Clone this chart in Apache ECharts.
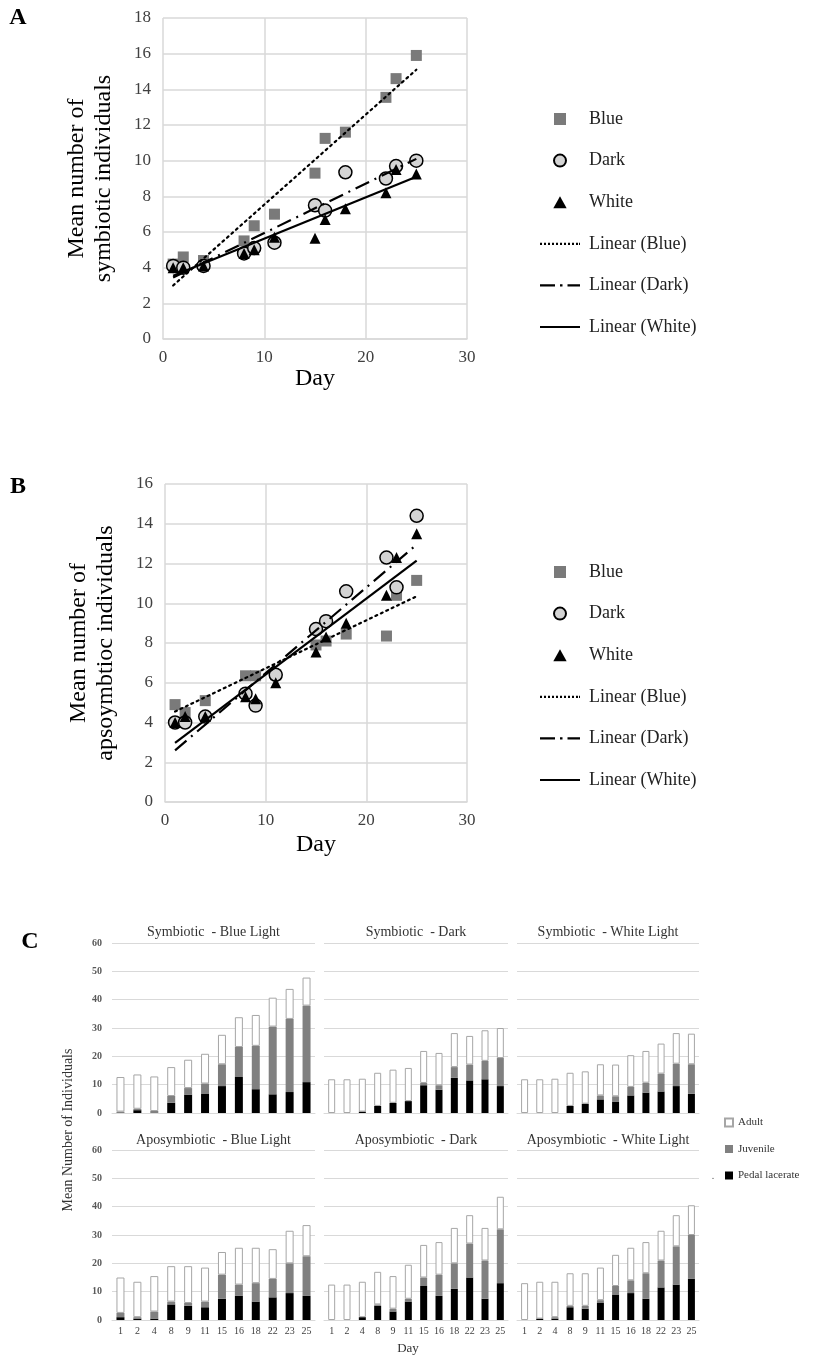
<!DOCTYPE html>
<html><head><meta charset="utf-8">
<script src="https://cdn.jsdelivr.net/npm/echarts@6/dist/echarts.min.js"></script>
<style>html,body{margin:0;padding:0;background:#fff}#c{width:814px;height:1361px}</style>
</head><body><div id="c"></div>
<script>
// ---------- shared ----------
const days = [1, 2, 4, 8, 9, 11, 15, 16, 18, 22, 23, 25];
const dayLabels = ['1','2','4','8','9','11','15','16','18','22','23','25'];

// ---------- Panel A : symbiotic ----------
const aBlue  = [4.2, 4.6, 4.4, 5.5, 6.35, 7.0, 9.3, 11.25, 11.6, 13.55, 14.6, 15.9];
const aDark  = [4.1, 4.0, 4.1, 4.8, 5.1, 5.4, 7.5, 7.2, 9.35, 9.0, 9.7, 10.0];
const aWhite = [4.0, 4.0, 4.1, 4.8, 5.0, 5.7, 5.65, 6.7, 7.3, 8.2, 9.5, 9.25];
const aTrendBlue  = [[1, 3.0], [25, 15.1]];
const aTrendDark  = [[1, 3.45], [25, 10.1]];
const aTrendWhite = [[1, 3.55], [25, 9.1]];

// ---------- Panel B : aposymbiotic ----------
const bBlue  = [4.9, 4.5, 5.1, 6.35, 6.35, 6.4, 7.9, 8.1, 8.45, 8.35, 10.4, 11.15];
const bDark  = [4.0, 4.0, 4.3, 5.45, 4.85, 6.4, 8.7, 9.1, 10.6, 12.3, 10.8, 14.4];
const bWhite = [4.0, 4.3, 4.3, 5.3, 5.2, 6.0, 7.55, 8.3, 9.0, 10.4, 12.3, 13.5];
const bTrendBlue  = [[1, 4.55], [25, 10.35]];
const bTrendDark  = [[1, 2.6], [25, 12.95]];
const bTrendWhite = [[1, 2.97], [25, 12.15]];

const scatterAxisTicks = { xMin: 0, xMax: 30, xStep: 10 };

// ---------- Panel C : stacked bars ----------
const symBluePedal  = [0, 1.0, 0, 3.6, 6.5, 6.7, 9.5, 12.7, 8.4, 6.6, 7.4, 10.9];
const symBlueJuv    = [0.5, 0.5, 0.7, 2.4, 2.3, 3.7, 7.7, 10.6, 15.3, 23.9, 25.8, 27.0];
const symBlueAdult  = [12.2, 12.1, 12.2, 10.2, 10.0, 10.5, 10.4, 10.5, 10.9, 10.2, 10.6, 9.9];

const symDarkPedal  = [0, 0, 0.5, 2.5, 3.6, 4.2, 9.8, 8.2, 12.4, 11.5, 11.9, 9.5];
const symDarkJuv    = [0, 0, 0, 0, 0, 0, 0.8, 1.6, 3.8, 5.6, 6.5, 9.9];
const symDarkAdult  = [11.9, 11.9, 11.6, 11.7, 11.7, 11.7, 11.3, 11.4, 12.0, 10.1, 10.8, 10.6];

const symWhitePedal = [0, 0, 0, 2.5, 3.3, 4.8, 3.9, 6.2, 7.2, 7.6, 9.5, 6.8];
const symWhiteJuv   = [0, 0, 0, 0, 0, 1.4, 2.0, 3.0, 3.5, 6.3, 7.9, 10.4];
const symWhiteAdult = [11.9, 11.9, 12.1, 11.7, 11.4, 11.0, 11.2, 11.2, 11.2, 10.6, 10.8, 10.8];

const apoBluePedal  = [1.0, 0.5, 0.5, 5.5, 5.0, 4.5, 7.5, 8.5, 6.5, 8.0, 9.5, 8.5];
const apoBlueJuv    = [1.5, 0.5, 2.5, 1.0, 1.0, 2.0, 8.5, 4.0, 6.5, 6.5, 10.5, 14.0];
const apoBlueAdult  = [12.5, 12.5, 12.5, 12.5, 13.0, 12.0, 8.0, 13.0, 12.5, 10.5, 11.5, 11.0];

const apoDarkPedal  = [0, 0, 1.0, 5.0, 3.0, 6.5, 12.0, 8.5, 11.0, 15.0, 7.5, 13.0];
const apoDarkJuv    = [0, 0, 0, 0.5, 1.0, 1.0, 3.0, 7.5, 9.0, 12.0, 13.5, 19.0];
const apoDarkAdult  = [12.5, 12.5, 12.5, 11.5, 11.5, 12.0, 11.5, 11.5, 12.5, 10.0, 11.5, 11.5];

const apoWhitePedal = [0, 0.5, 0.5, 4.5, 4.0, 6.0, 9.0, 9.5, 7.5, 11.5, 12.5, 14.5];
const apoWhiteJuv   = [0, 0, 0.5, 0.5, 1.0, 1.0, 3.0, 4.5, 9.0, 9.5, 13.5, 15.5];
const apoWhiteAdult = [13.0, 13.0, 12.5, 11.5, 11.5, 11.5, 11.0, 11.5, 11.0, 10.5, 11.0, 10.5];

const panelTitles = ['Symbiotic  - Blue Light', 'Symbiotic  - Dark', 'Symbiotic  - White Light',
                     'Aposymbiotic  - Blue Light', 'Aposymbiotic  - Dark', 'Aposymbiotic  - White Light'];
const stageNames = ['Adult', 'Juvenile', 'Pedal lacerate'];

// ---------- build ----------
const SERIF = 'Liberation Serif';
const GRID = '#d9d9d9';
const pair = arr => arr.map((v, i) => [days[i], v]);

const panelData = [
  [symBluePedal, symBlueJuv, symBlueAdult],
  [symDarkPedal, symDarkJuv, symDarkAdult],
  [symWhitePedal, symWhiteJuv, symWhiteAdult],
  [apoBluePedal, apoBlueJuv, apoBlueAdult],
  [apoDarkPedal, apoDarkJuv, apoDarkAdult],
  [apoWhitePedal, apoWhiteJuv, apoWhiteAdult]
];
const colLeft = [112, 324, 517], colWidth = [203, 184, 182];
const rowTop = [943, 1150];

const grids = [
  { left: 163, top: 18, width: 304, height: 321 },
  { left: 165, top: 484, width: 302, height: 318 }
];
for (let r = 0; r < 2; r++) for (let c = 0; c < 3; c++)
  grids.push({ left: colLeft[c], top: rowTop[r], width: colWidth[c], height: 170 });

function sciX(gi, gap) {
  return { type: 'value', gridIndex: gi, min: scatterAxisTicks.xMin, max: scatterAxisTicks.xMax, interval: scatterAxisTicks.xStep,
    axisLine: { show: true, lineStyle: { color: GRID, width: 1.5 } }, axisTick: { show: false },
    splitLine: { show: true, lineStyle: { color: GRID, width: 1.5 } },
    axisLabel: { fontFamily: SERIF, fontSize: 17, color: '#404040', margin: 10 },
    name: 'Day', nameLocation: 'middle', nameGap: gap,
    nameTextStyle: { fontFamily: SERIF, fontSize: 24, color: '#000' } };
}
function sciY(gi, max, name) {
  return { type: 'value', gridIndex: gi, min: 0, max: max, interval: 2,
    axisLine: { show: false }, axisTick: { show: false },
    splitLine: { show: true, lineStyle: { color: GRID, width: 1.5 } },
    axisLabel: { fontFamily: SERIF, fontSize: 17, color: '#404040', margin: 12 },
    name: name, nameLocation: 'middle', nameGap: 46, nameRotate: 90,
    nameTextStyle: { fontFamily: SERIF, fontSize: 24, color: '#000', lineHeight: 27 } };
}

const xAxes = [sciX(0, 27), sciX(1, 31)];
const yAxes = [sciY(0, 18, 'Mean number of\nsymbiotic individuals'), sciY(1, 16, 'Mean number of\napsoymbtioc individuals')];
for (let p = 0; p < 6; p++) {
  const gi = p + 2, bottomRow = p >= 3, leftCol = p % 3 === 0;
  xAxes.push({ type: 'category', gridIndex: gi, data: dayLabels,
    axisLine: { show: true, lineStyle: { color: GRID } }, axisTick: { show: false },
    axisLabel: { show: bottomRow, fontFamily: SERIF, fontSize: 10, color: '#404040', margin: 6, interval: 0 } });
  yAxes.push({ type: 'value', gridIndex: gi, min: 0, max: 60, interval: 10,
    axisLine: { show: false }, axisTick: { show: false },
    splitLine: { show: true, lineStyle: { color: GRID, width: 1 } },
    axisLabel: { show: leftCol, fontFamily: SERIF, fontSize: 10, fontWeight: 'bold', color: '#595959', margin: 10 } });
}

const series = [];
function sciSeries(gi, blue, dark, white, tb, td, tw) {
  series.push(
    { type: 'scatter', name: 'Blue', xAxisIndex: gi, yAxisIndex: gi, data: pair(blue), symbol: 'rect', symbolSize: 11,
      itemStyle: { color: '#7a7a7a', opacity: 1 } },
    { type: 'scatter', name: 'Dark', xAxisIndex: gi, yAxisIndex: gi, data: pair(dark), symbol: 'circle', symbolSize: 13,
      itemStyle: { color: '#d4d4d4', borderColor: '#000', borderWidth: 1.5, opacity: 1 } },
    { type: 'scatter', name: 'White', xAxisIndex: gi, yAxisIndex: gi, data: pair(white), symbol: 'triangle', symbolSize: 11,
      itemStyle: { color: '#000', opacity: 1 } },
    { type: 'line', name: 'Linear (Blue)', xAxisIndex: gi, yAxisIndex: gi, data: tb, symbol: 'none',
      lineStyle: { color: '#000', width: 2.2, type: [2, 4], cap: 'round' }, itemStyle: { color: '#000' } },
    { type: 'line', name: 'Linear (Dark)', xAxisIndex: gi, yAxisIndex: gi, data: td, symbol: 'none',
      lineStyle: { color: '#000', width: 2.2, type: [15, 6, 2, 6] }, itemStyle: { color: '#000' } },
    { type: 'line', name: 'Linear (White)', xAxisIndex: gi, yAxisIndex: gi, data: tw, symbol: 'none',
      lineStyle: { color: '#000', width: 2.2 }, itemStyle: { color: '#000' } }
  );
}
sciSeries(0, aBlue, aDark, aWhite, aTrendBlue, aTrendDark, aTrendWhite);
sciSeries(1, bBlue, bDark, bWhite, bTrendBlue, bTrendDark, bTrendWhite);

for (let p = 0; p < 6; p++) {
  const gi = p + 2, bw = p % 3 === 0 ? 8 : 7;
  const [ped, juv, ad] = panelData[p];
  series.push(
    { type: 'bar', name: 'Pedal lacerate', xAxisIndex: gi, yAxisIndex: gi, stack: 's' + p, data: ped, barWidth: bw,
      itemStyle: { color: '#000' } },
    { type: 'bar', name: 'Juvenile', xAxisIndex: gi, yAxisIndex: gi, stack: 's' + p, data: juv, barWidth: bw,
      itemStyle: { color: '#808080' } },
    { type: 'bar', name: 'Adult', xAxisIndex: gi, yAxisIndex: gi, stack: 's' + p, data: ad, barWidth: bw,
      itemStyle: { color: '#fff', borderColor: '#a6a6a6', borderWidth: 1 } }
  );
}

// legend icons (square / circle / triangle markers, dotted / dash-dot / solid line samples)
const sciLegendData = [
  { name: 'Blue', icon: 'path://M0,0h10v10h-10z' },
  { name: 'Dark', icon: 'circle' },
  { name: 'White', icon: 'path://M5,0L10,9H0Z' },
  { name: 'Linear (Blue)', icon: 'path://M0,0h2v2.2h-2zM4,0h2v2.2h-2zM8,0h2v2.2h-2zM12,0h2v2.2h-2zM16,0h2v2.2h-2zM20,0h2v2.2h-2zM24,0h2v2.2h-2zM28,0h2v2.2h-2zM32,0h2v2.2h-2zM36,0h2v2.2h-2zM39,0h1v2.2h-1z' },
  { name: 'Linear (Dark)', icon: 'path://M0,0h15v2.2h-15zM20,0h2.5v2.2h-2.5zM27.5,0h12.5v2.2h-12.5z' },
  { name: 'Linear (White)', icon: 'path://M0,0h40v2.2h-40z' }
];
function sciLegend(top) {
  return { orient: 'vertical', left: 535, top: top, itemWidth: 40, itemHeight: 12, itemGap: 21.6,
    data: sciLegendData, selectedMode: false, symbolKeepAspect: true,
    textStyle: { fontFamily: SERIF, fontSize: 18, color: '#222', lineHeight: 20, padding: [0, 0, 0, 4] } };
}

const graphic = [];
function txt(x, y, text, size, opts) {
  graphic.push({ type: 'text', x: x, y: y,
    style: Object.assign({ text: text, fontFamily: SERIF, fontSize: size, fill: '#000', align: 'center', verticalAlign: 'middle' }, opts || {}) });
}
txt(18, 18, 'A', 24, { fontWeight: 'bold' });
txt(18, 487, 'B', 24, { fontWeight: 'bold' });
txt(30, 942, 'C', 24, { fontWeight: 'bold' });
for (let p = 0; p < 6; p++) {
  const c = p % 3, r = p >= 3 ? 1 : 0;
  txt(colLeft[c] + colWidth[c] / 2, r ? 1140 : 932, panelTitles[p], 14, { fill: '#333' });
}
graphic.push({ type: 'text', x: 68, y: 1130, rotation: Math.PI / 2,
  style: { text: 'Mean Number of Individuals', fontFamily: SERIF, fontSize: 14, fill: '#333', align: 'center', verticalAlign: 'middle' } });
txt(408, 1349, 'Day', 13, { fill: '#333' });
txt(713, 1176, '.', 10, { fill: '#555' });

const option = {
  animation: false,
  backgroundColor: '#fff',
  grid: grids,
  xAxis: xAxes,
  yAxis: yAxes,
  legend: [
    sciLegend(104),
    sciLegend(557),
    { orient: 'vertical', left: 719, top: 1111, itemWidth: 8, itemHeight: 8, itemGap: 13.5, icon: 'rect',
      data: stageNames, selectedMode: false,
      textStyle: { fontFamily: SERIF, fontSize: 11, color: '#333', lineHeight: 13 } }
  ],
  series: series,
  graphic: graphic
};
const chart = echarts.init(document.getElementById('c'), null, { renderer: 'canvas' });
chart.setOption(option);
</script></body></html>
